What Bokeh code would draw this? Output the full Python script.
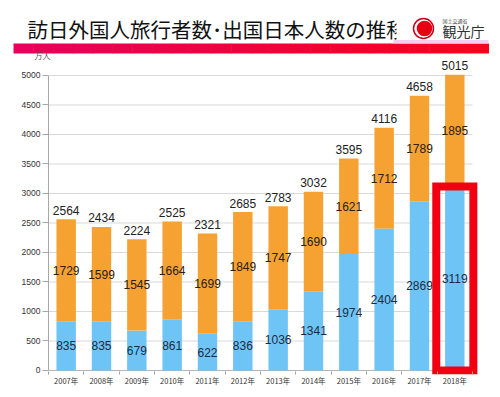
import numpy as np
from bokeh.plotting import figure
from bokeh.layouts import column
from bokeh.models import Range1d, FixedTicker, ColumnDataSource
from bokeh.core.properties import value
from bokeh.embed import file_html
from bokeh.resources import INLINE

# ---------------- data ----------------
years = ["2007年", "2008年", "2009年", "2010年", "2011年", "2012年",
         "2013年", "2014年", "2015年", "2016年", "2017年", "2018年"]
inbound = [835, 835, 679, 861, 622, 836, 1036, 1341, 1974, 2404, 2869, 3119]      # 訪日外国人旅行者数 (blue)
outbound = [1729, 1599, 1545, 1664, 1699, 1849, 1747, 1690, 1621, 1712, 1789, 1895]  # 出国日本人数 (orange)
totals = [2564, 2434, 2224, 2525, 2321, 2685, 2783, 3032, 3595, 4116, 4658, 5015]
y_ticks = [0, 500, 1000, 1500, 2000, 2500, 3000, 3500, 4000, 4500, 5000]
title_text = "訪日外国人旅行者数･出国日本人数の推移"
unit_text = "万人"
agency_text = "観光庁"
ministry_text = "国土交通省"

BLUE = "#6EC5F5"
ORANGE = "#F5A233"
NUM_FONT = "Liberation Sans"
CJK_FONT = "Noto Sans CJK JP"

W = 500


def no_align(fig):
    try:
        fig.frame_align = False
    except Exception:
        pass


# ---------------- header (pixel coordinates) ----------------
HH = 60
header = figure(width=W, height=HH, output_backend="svg", toolbar_location=None,
                x_range=Range1d(0, W), y_range=Range1d(0, HH),
                x_axis_type=None, y_axis_type=None, min_border=0)
header.min_border_left = 0
header.min_border_right = 0
header.min_border_top = 0
header.min_border_bottom = 0
header.outline_line_color = None
header.grid.visible = False
no_align(header)

header.text(x=[27], y=[31.5], text=[title_text], text_font=value(CJK_FONT),
            text_font_size="20.5px", text_color="#111111",
            text_align="left", text_baseline="middle")
# the title is cut off by the logo area
header.quad(left=[396], right=[412], bottom=[15], top=[HH], fill_color="white", line_color=None)

# pink / red band with a soft gradient
n_steps = 24
edges = np.linspace(13, 488, n_steps + 1)
c0 = np.array([232, 0, 90])
c1 = np.array([250, 0, 30])
cols = []
for k in range(n_steps):
    t = k / (n_steps - 1)
    c = (c0 * (1 - t) + c1 * t).astype(int)
    cols.append("#%02x%02x%02x" % tuple(c))
header.quad(left=edges[:-1], right=edges[1:] + 0.5, bottom=7, top=17, fill_color=cols, line_color=None)
header.quad(left=[393], right=[488], bottom=[17], top=[20.5], fill_color="#F4CDEF", line_color=None)

# logo
header.circle(x=[423], y=[32], radius=10, fill_color="white", line_color="#C4001A", line_width=1.5)
header.circle(x=[424], y=[32], radius=7.8, fill_color="#E60012", line_color=None)
header.text(x=[442], y=[40], text=[ministry_text], text_font=value(CJK_FONT),
            text_font_size="5px", text_color="#444444", text_align="left", text_baseline="middle")
header.text(x=[442], y=[30], text=[agency_text], text_font=value(CJK_FONT),
            text_font_size="14px", text_color="#333333", text_align="left", text_baseline="middle")

# unit label of the value axis
header.text(x=[42], y=[5], text=[unit_text], text_font=value(CJK_FONT),
            text_font_size="8px", text_color="#555555", text_align="center", text_baseline="middle")

# ---------------- chart ----------------
n = len(years)
idx = list(range(n))
src = ColumnDataSource(dict(
    x=idx,
    inbound=inbound,
    outbound=outbound,
    stack_top=[a + b for a, b in zip(inbound, outbound)],
    totals=totals,
    in_mid=[a / 2 for a in inbound],
    out_mid=[a + b / 2 for a, b in zip(inbound, outbound)],
    in_lbl=[str(v) for v in inbound],
    out_lbl=[str(v) for v in outbound],
    tot_lbl=[str(v) for v in totals],
))

p = figure(width=W, height=337, output_backend="svg", toolbar_location=None,
           x_range=Range1d(-0.5, 11.727), y_range=Range1d(-68, 5254),
           min_border_left=48, min_border_right=20, min_border_top=0, min_border_bottom=23)
p.outline_line_color = None
p.xgrid.visible = False
p.ygrid.visible = False
no_align(p)

# horizontal grid lines (bounded to the category area)
p.segment(x0=[-0.5] * (len(y_ticks) - 1), x1=[n - 0.5] * (len(y_ticks) - 1),
          y0=y_ticks[1:], y1=y_ticks[1:], line_color="#D9D9D9", line_width=1)
p.segment(x0=[-0.5], x1=[n - 0.5], y0=[y_ticks[0]], y1=[y_ticks[0]],
          line_color="#B5B5B5", line_width=1)

bw = 0.55
p.vbar(x="x", bottom=0, top="inbound", width=bw, source=src, fill_color=BLUE, line_color=None)
p.vbar(x="x", bottom="inbound", top="stack_top", width=bw, source=src, fill_color=ORANGE, line_color=None)

p.text(x="x", y="in_mid", text="in_lbl", source=src, text_font=value(NUM_FONT),
       text_font_size="12px", text_color="#1C2A44", text_align="center", text_baseline="middle")
p.text(x="x", y="out_mid", text="out_lbl", source=src, text_font=value(NUM_FONT),
       text_font_size="12px", text_color="#2A2010", text_align="center", text_baseline="middle")
p.text(x="x", y="totals", text="tot_lbl", source=src, text_font=value(NUM_FONT),
       text_font_size="12px", text_color="#222222", text_align="center",
       text_baseline="alphabetic", y_offset=-9)

# highlight box around the latest year
last = idx[-1]
p.quad(left=[last - 0.525], right=[last + 0.525], bottom=[0], top=[inbound[-1]],
       fill_color=None, line_color="#F00010", line_width=8, line_join="miter")

# axes
xa = p.xaxis[0]
xa.ticker = FixedTicker(ticks=idx, minor_ticks=[i - 0.5 for i in range(n + 1)])
xa.major_label_overrides = {i: years[i] for i in idx}
xa.axis_line_color = None
xa.major_tick_in = 0
xa.major_tick_out = 0
xa.minor_tick_in = 3
xa.minor_tick_out = 0
xa.minor_tick_line_color = "#A0A0A0"
xa.major_label_standoff = 0
xa.major_label_text_font = CJK_FONT
xa.major_label_text_font_size = "7.5px"
xa.major_label_text_color = "#333333"

ya = p.yaxis[0]
ya.ticker = FixedTicker(ticks=y_ticks)
ya.bounds = (0, 5000)
ya.axis_line_color = "#A8A8A8"
ya.major_tick_line_color = "#A8A8A8"
ya.major_tick_in = 0
ya.major_tick_out = 6
ya.minor_tick_line_color = None
ya.major_label_standoff = 2
ya.major_label_text_font = NUM_FONT
ya.major_label_text_font_size = "8.5px"
ya.major_label_text_color = "#333333"

layout = column(header, p, spacing=0)
open("out.html", "w").write(file_html(layout, INLINE))
